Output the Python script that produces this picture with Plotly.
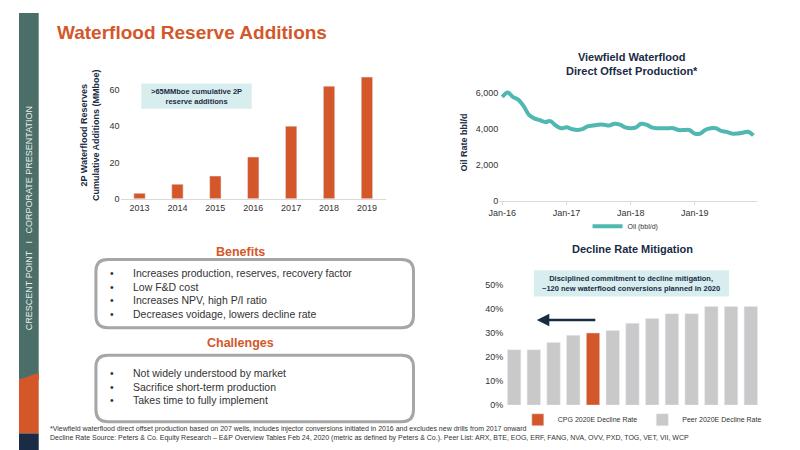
import plotly.graph_objects as go

years = ["2013","2014","2015","2016","2017","2018","2019"]
reserves = [3, 8, 12.5, 23, 40, 62, 67]

months = ["2016-01","2016-02","2016-03","2016-04","2016-05","2016-06","2016-07","2016-08","2016-09","2016-10","2016-11","2016-12",
          "2017-01","2017-02","2017-03","2017-04","2017-05","2017-06","2017-07","2017-08","2017-09","2017-10","2017-11","2017-12",
          "2018-01","2018-02","2018-03","2018-04","2018-05","2018-06","2018-07","2018-08","2018-09","2018-10","2018-11","2018-12",
          "2019-01","2019-02","2019-03","2019-04","2019-05","2019-06","2019-07","2019-08","2019-09","2019-10","2019-11","2019-12"]
oil = [5800,6050,5800,5650,5300,4800,4600,4500,4400,4450,4200,4050,
       4100,4000,3950,4000,4150,4200,4250,4250,4200,4300,4250,4100,
       4050,4100,4300,4250,4100,4050,4050,4050,4050,3950,3950,3950,
       3750,3750,3950,4050,4050,3900,3850,3750,3750,3800,3850,3650]

peers = ["P1","P2","P3","P4","CPG","P6","P7","P8","P9","P10","P11","P12","P13"]
decline = [23, 23, 26, 29, 30, 31, 34, 36, 38, 38, 41, 41, 41]
cpg_idx = 4
pct_ticks = [0, 10, 20, 30, 40, 50]
pct_labels = ["0%", "10%", "20%", "30%", "40%", "50%"]

ORANGE = "#d4572a"
TEAL = "#4fb8b0"
GRAY = "#c9c9c9"
NAVY = "#1a2b45"
TXT = "#333333"

W, H = 800, 450
def px(x): return x / W
def py(y): return 1 - y / H

fig = go.Figure()
fig.add_trace(go.Bar(x=years, y=reserves, marker_color=ORANGE, width=0.3,
                     name="Cumulative Reserves Additions", xaxis="x", yaxis="y", legend="legend"))
fig.add_trace(go.Scatter(x=months, y=oil, mode="lines", line=dict(color=TEAL, width=4, shape="spline"),
                         name="Oil (bbl/d)", xaxis="x2", yaxis="y2", legend="legend2"))
cpg_y = [v if i == cpg_idx else None for i, v in enumerate(decline)]
peer_y = [None if i == cpg_idx else v for i, v in enumerate(decline)]
fig.add_trace(go.Bar(x=peers, y=cpg_y, marker_color=ORANGE, width=0.68, name="CPG 2020E Decline Rate",
                     xaxis="x3", yaxis="y3", legend="legend3"))
fig.add_trace(go.Bar(x=peers, y=peer_y, marker_color=GRAY, width=0.68, name="Peer 2020E Decline Rate",
                     xaxis="x3", yaxis="y3", legend="legend3"))

tickf = dict(size=9, color=TXT, family="Liberation Sans")
fig.update_layout(
    width=W, height=H, margin=dict(l=0, r=0, t=0, b=0),
    paper_bgcolor="white", plot_bgcolor="white", barmode="overlay",
    font=dict(family="Liberation Sans", color=TXT),
    xaxis=dict(domain=[px(103), px(372)], anchor="y", tickfont=tickf, showline=True, linecolor="#d9d9d9",
               ticks="", showgrid=False),
    yaxis=dict(domain=[py(190), py(60)], anchor="x", range=[0, 70], tickvals=[0, 20, 40, 60], tickfont=tickf,
               showgrid=False, zeroline=False,
               title=dict(text="<b>2P Waterflood Reserves<br>Cumulative Additions (MMboe)</b>",
                          font=dict(size=9, color=NAVY), standoff=8)),
    xaxis2=dict(domain=[px(487), px(748)], anchor="y2", type="date", range=["2015-12-15", "2019-12-20"],
                tickvals=["2016-01-01","2017-01-01","2018-01-01","2019-01-01"],
                ticktext=["Jan-16","Jan-17","Jan-18","Jan-19"], tickfont=tickf, showgrid=False,
                showline=True, linecolor="#d9d9d9", ticks="outside", ticklen=3, tickcolor="#d9d9d9"),
    yaxis2=dict(domain=[py(192), py(73)], anchor="x2", range=[0, 6500], tickvals=[0, 2000, 4000, 6000],
                tickformat=",", tickfont=tickf, showgrid=False, zeroline=False,
                title=dict(text="<b>Oil Rate bbl/d</b>", font=dict(size=9, color=NAVY), standoff=6)),
    xaxis3=dict(domain=[px(492), px(752)], anchor="y3", showticklabels=False, showgrid=False, ticks=""),
    yaxis3=dict(domain=[py(401), py(278)], anchor="x3", range=[0, 50], tickvals=pct_ticks, ticktext=pct_labels,
                tickfont=tickf, showgrid=False, zeroline=False),
    legend=dict(x=px(240), y=py(218), xanchor="center", yanchor="middle", orientation="h",
                font=dict(size=7, color=TXT), bgcolor="rgba(0,0,0,0)"),
    legend2=dict(x=px(615), y=py(218), xanchor="center", yanchor="middle", orientation="h",
                 font=dict(size=7, color=TXT), bgcolor="rgba(0,0,0,0)"),
    legend3=dict(x=px(632), y=py(416), xanchor="center", yanchor="middle", orientation="h",
                 font=dict(size=7, color=TXT), bgcolor="rgba(0,0,0,0)", traceorder="normal"),
)

def rrect(x0, y0, x1, y1, r):
    X0, X1 = px(x0), px(x1)
    Y0, Y1 = py(y0), py(y1)
    rx, ry = r / W, r / H
    return (f"M{X0+rx},{Y0} L{X1-rx},{Y0} Q{X1},{Y0} {X1},{Y0-ry} L{X1},{Y1+ry} Q{X1},{Y1} {X1-rx},{Y1} "
            f"L{X0+rx},{Y1} Q{X0},{Y1} {X0},{Y1+ry} L{X0},{Y0-ry} Q{X0},{Y0} {X0+rx},{Y0} Z")

shapes = [
    dict(type="rect", xref="paper", yref="paper", x0=0, x1=px(20), y0=py(375), y1=1, fillcolor="#4b6f68", line_width=0, layer="below"),
    dict(type="path", xref="paper", yref="paper", path=f"M0,{py(375)} L{px(20)},{py(368)} L{px(20)},{py(430)} L0,{py(430)} Z",
         fillcolor=ORANGE, line_width=0),
    dict(type="rect", xref="paper", yref="paper", x0=0, x1=px(20), y0=0, y1=py(430), fillcolor=NAVY, line_width=0),
    dict(type="path", xref="paper", yref="paper", path=rrect(78, 252, 400, 322, 12), line=dict(color="#a6a6a6", width=3)),
    dict(type="path", xref="paper", yref="paper", path=rrect(78, 350, 400, 418, 12), line=dict(color="#a6a6a6", width=3)),
    dict(type="rect", xref="paper", yref="paper", x0=px(124), x1=px(236), y0=py(98), y1=py(72), fillcolor="#d8eeee", line_width=0, layer="below"),
    dict(type="rect", xref="paper", yref="paper", x0=px(522), x1=px(720), y0=py(290), y1=py(263), fillcolor="#d8eeee", line_width=0, layer="below"),
]
fig.update_layout(shapes=shapes)

ann = [
    dict(x=px(36), y=py(20), text="<b>Waterflood Reserve Additions</b>", xanchor="left", yanchor="middle",
         font=dict(size=19, color=ORANGE)),
    dict(x=px(10), y=py(210), text="CRESCENT POINT   I   CORPORATE PRESENTATION", textangle=-90,
         font=dict(size=9, color="#e8eeec")),
    dict(x=px(180), y=py(85), text="<b>>65MMboe cumulative 2P<br>reserve additions</b>", font=dict(size=7.5, color=NAVY)),
    dict(x=px(622), y=py(52), text="<b>Viewfield Waterflood<br>Direct Offset Production*</b>", font=dict(size=11, color=NAVY)),
    dict(x=px(622), y=py(241), text="<b>Decline Rate Mitigation</b>", font=dict(size=11, color=NAVY)),
    dict(x=px(621), y=py(277), text="<b>Disciplined commitment to decline mitigation,<br>~120 new waterflood conversions planned in 2020</b>",
         font=dict(size=7.5, color=NAVY)),
    dict(x=px(225), y=py(244), text="<b>Benefits</b>", font=dict(size=12.5, color=ORANGE)),
    dict(x=px(225), y=py(338), text="<b>Challenges</b>", font=dict(size=12.5, color=ORANGE)),
    dict(x=px(90), y=py(287), text="•<br>•<br>•<br>•", xanchor="left", align="left", font=dict(size=10.5, color=TXT)),
    dict(x=px(114), y=py(287), text="Increases production, reserves, recovery factor<br>Low F&D cost<br>Increases NPV, high P/I ratio<br>Decreases voidage, lowers decline rate",
         xanchor="left", align="left", font=dict(size=10.5, color=TXT)),
    dict(x=px(90), y=py(382), text="•<br>•<br>•", xanchor="left", align="left", font=dict(size=10.5, color=TXT)),
    dict(x=px(114), y=py(382), text="Not widely understood by market<br>Sacrifice short-term production<br>Takes time to fully implement",
         xanchor="left", align="left", font=dict(size=10.5, color=TXT)),
    dict(x=px(29), y=py(430), text="*Viewfield waterflood direct offset production based on 207 wells, includes injector conversions initiated in 2016 and excludes new drills from 2017 onward<br>Decline Rate Source: Peters & Co. Equity Research – E&P Overview Tables Feb 24, 2020 (metric as defined by Peters & Co.). Peer List: ARX, BTE, EOG, ERF, FANG, NVA, OVV, PXD, TOG, VET, VII, WCP",
         xanchor="left", yanchor="middle", align="left", font=dict(size=7, color=TXT)),
    dict(ax=60, ay=0, x=px(525), y=py(314), axref="pixel", ayref="pixel",
         showarrow=True, arrowhead=2, arrowsize=1, arrowwidth=2.5, arrowcolor=NAVY, text=""),
]
for a in ann:
    a.setdefault("xref", "paper"); a.setdefault("yref", "paper"); a.setdefault("showarrow", False)
    a.setdefault("xanchor", "center"); a.setdefault("yanchor", "middle")
fig.update_layout(annotations=ann)

fig.write_html("out.html")
